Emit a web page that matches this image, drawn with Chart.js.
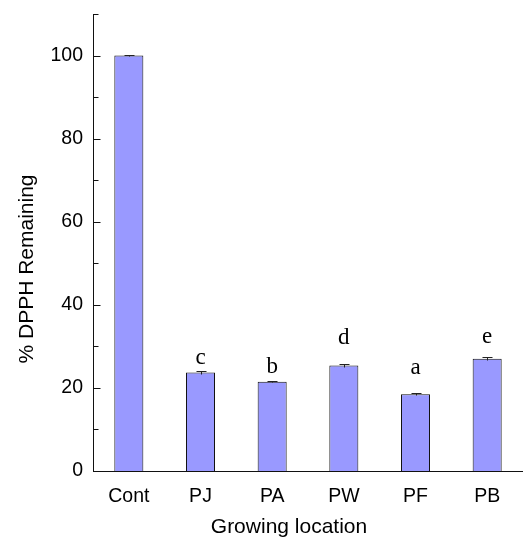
<!DOCTYPE html>
<html>
<head>
<meta charset="utf-8">
<script src="https://cdn.jsdelivr.net/npm/chart.js@4/dist/chart.umd.min.js"></script>
<style>
  html, body { margin: 0; padding: 0; background: #fff; }
  #wrap { width: 523px; height: 539px; }
</style>
</head>
<body>
<div id="wrap"><canvas id="c"></canvas></div>
<script>
// Growing locations and % DPPH remaining (mean and error)
const locations = ['Cont', 'PJ', 'PA', 'PW', 'PF', 'PB'];
const dpphRemaining = [100, 23.7, 21.5, 25.4, 18.5, 27.0];
const dpphError = [0.1, 0.3, 0.1, 0.3, 0.3, 0.4];
const groupLetters = ['', 'c', 'b', 'd', 'a', 'e'];
const yTickValues = [0, 20, 40, 60, 80, 100];

// Significance letters sit at these heights (axis units)
const letterHeights = [null, 25.75, 23.7, 30.5, 23.4, 30.8];

const sansFont = "'Liberation Sans', Arial, Helvetica, sans-serif";
const serifFont = "'Liberation Serif', 'Times New Roman', serif";

const decorations = {
  id: 'decorations',
  afterDatasetsDraw(chart) {
    const ctx = chart.ctx;
    const y = chart.scales.y;
    const meta = chart.getDatasetMeta(0);

    ctx.save();
    // error bars
    ctx.strokeStyle = '#222';
    ctx.lineWidth = 1;
    meta.data.forEach((bar, i) => {
      const v = dpphRemaining[i], e = dpphError[i];
      const yHi = Math.round(y.getPixelForValue(v + e)) + 0.5;
      const yLo = Math.round(y.getPixelForValue(v - e)) + 0.5;
      const cx = Math.round(bar.x) + 0.5;
      ctx.beginPath();
      ctx.moveTo(cx, yLo); ctx.lineTo(cx, yHi);
      ctx.moveTo(cx - 5, yHi); ctx.lineTo(cx + 5, yHi);
      ctx.stroke();
    });

    // inward tick marks on the value axis
    ctx.strokeStyle = '#111';
    const ax = Math.round(y.right) + 0.5;
    y.ticks.forEach(t => {
      const py = Math.round(y.getPixelForValue(t.value)) + 0.5;
      const len = yTickValues.includes(t.value) ? 7 : 5;
      ctx.beginPath();
      ctx.moveTo(ax, py); ctx.lineTo(ax + len, py);
      ctx.stroke();
    });

    // significance letters
    ctx.fillStyle = '#000';
    ctx.font = '23px ' + serifFont;
    ctx.textAlign = 'center';
    ctx.textBaseline = 'alphabetic';
    meta.data.forEach((bar, i) => {
      if (!groupLetters[i]) return;
      ctx.fillText(groupLetters[i], bar.x, y.getPixelForValue(letterHeights[i]));
    });

    // axis titles
    ctx.font = '21px ' + sansFont;
    ctx.fillText('Growing location', 289, 533);
    ctx.translate(33, 269);
    ctx.rotate(-Math.PI / 2);
    ctx.fillText('% DPPH Remaining', 0, 0);
    ctx.restore();
  }
};

Chart.defaults.font.family = sansFont;
Chart.defaults.color = '#000';

new Chart(document.getElementById('c'), {
  type: 'bar',
  data: {
    labels: locations,
    datasets: [{
      data: dpphRemaining,
      backgroundColor: '#9999ff',
      borderColor: '#111',
      borderWidth: 1,
      categoryPercentage: 1,
      barPercentage: 0.405
    }]
  },
  options: {
    responsive: true,
    maintainAspectRatio: false,
    animation: false,
    layout: { padding: { top: 14, left: 0, right: 0, bottom: 0 } },
    plugins: { legend: { display: false }, tooltip: { enabled: false } },
    scales: {
      x: {
        grid: { display: false, drawTicks: false },
        border: { display: true, color: '#111', width: 1 },
        ticks: { font: { size: 19.5 }, padding: 14, maxRotation: 0 },
        afterFit(s) { s.height = 68; s.paddingLeft = 0; s.paddingRight = 0; }
      },
      y: {
        min: 0,
        max: 110,
        grid: { display: false, drawTicks: false },
        border: { display: true, color: '#111', width: 1 },
        ticks: {
          stepSize: 10,
          padding: 10,
          font: { size: 19.5 },
          callback: v => (yTickValues.includes(v) ? String(v) : '')
        },
        afterFit(s) { s.width = 93; s.paddingTop = 0; s.paddingBottom = 0; }
      }
    }
  },
  plugins: [decorations]
});
</script>
</body>
</html>
